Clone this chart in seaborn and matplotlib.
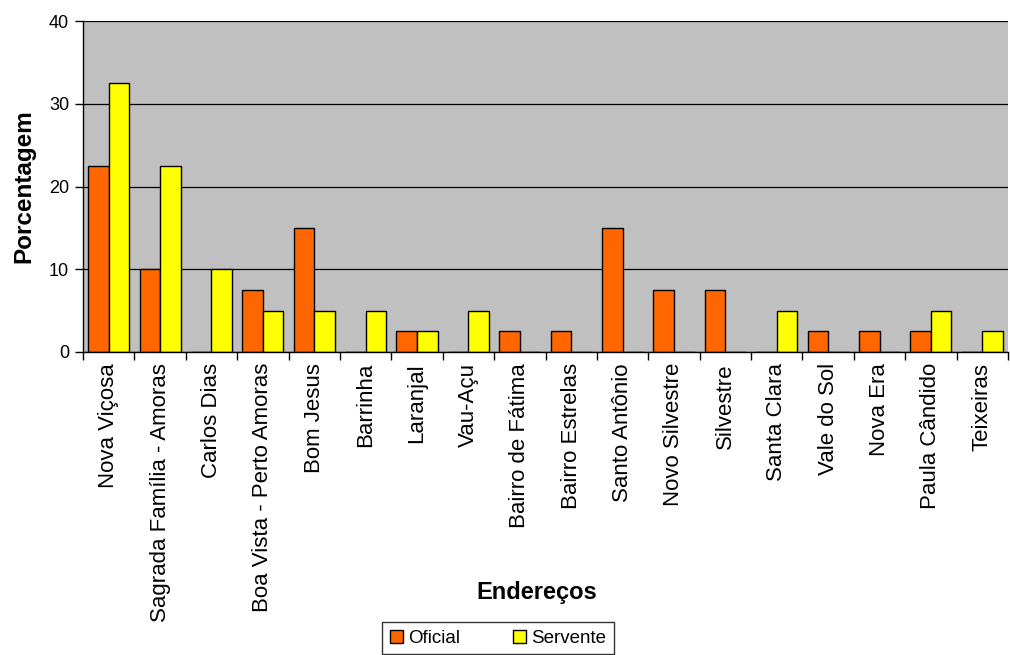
import matplotlib
matplotlib.use("Agg")
import matplotlib.pyplot as plt
import seaborn as sns
import pandas as pd
from matplotlib.patches import Patch

# Percentage of workers by address, per job role
enderecos = [
    "Nova Viçosa", "Sagrada Família - Amoras", "Carlos Dias",
    "Boa Vista - Perto Amoras", "Bom Jesus", "Barrinha", "Laranjal",
    "Vau-Açu", "Bairro de Fátima", "Bairro Estrelas", "Santo Antônio",
    "Novo Silvestre", "Silvestre", "Santa Clara", "Vale do Sol",
    "Nova Era", "Paula Cândido", "Teixeiras",
]
oficial = [22.5, 10, 0, 7.5, 15, 0, 2.5, 0, 2.5, 2.5, 15, 7.5, 7.5, 0, 2.5, 2.5, 2.5, 0]
servente = [32.5, 22.5, 10, 5, 5, 5, 2.5, 5, 0, 0, 0, 0, 0, 5, 0, 0, 5, 2.5]
series = ["Oficial", "Servente"]
cores = ["#FF6600", "#FFFF00"]

df = pd.DataFrame({
    "Endereço": enderecos * 2,
    "Função": [series[0]] * len(enderecos) + [series[1]] * len(enderecos),
    "Porcentagem": oficial + servente,
})

plt.rcParams["font.family"] = ["Liberation Sans", "DejaVu Sans"]
plt.rcParams["text.color"] = "black"
plt.rcParams["axes.labelcolor"] = "black"
plt.rcParams["xtick.color"] = "black"
plt.rcParams["ytick.color"] = "black"

fig = plt.figure(figsize=(10.1, 6.55), dpi=100)
ax = fig.add_axes([83 / 1010, 1 - 352 / 655, 925 / 1010, 331 / 655])

sns.barplot(
    data=df, x="Endereço", y="Porcentagem", hue="Função",
    order=enderecos, hue_order=series, palette=cores,
    width=0.8, edgecolor="black", linewidth=1.0, saturation=1,
    ax=ax, zorder=3,
)

ax.set_facecolor("#C0C0C0")
ax.set_xlim(-0.5, len(enderecos) - 0.5)
ax.set_ylim(0, 40)
ax.set_yticks([0, 10, 20, 30, 40])
ax.yaxis.grid(True, color="black", linewidth=0.9, zorder=0)
ax.xaxis.grid(False)
ax.set_axisbelow(True)

for s in ["top", "right"]:
    ax.spines[s].set_visible(False)
for s in ["left", "bottom"]:
    ax.spines[s].set_color("black")
    ax.spines[s].set_linewidth(1.0)
    ax.spines[s].set_zorder(4)

# Category labels at centres, tick marks at the boundaries between groups
ax.set_xticks(range(len(enderecos)))
ax.set_xticklabels(enderecos, rotation=90, fontsize=16, va="top", ha="center")
ax.set_xticks([i - 0.5 for i in range(len(enderecos) + 1)], minor=True)
ax.tick_params(axis="x", which="major", length=0, pad=8)
ax.tick_params(axis="x", which="minor", length=6, width=1, color="black", direction="out")
ax.tick_params(axis="y", which="major", length=6, width=1, color="black",
               direction="out", labelsize=13, pad=4, left=True)

ax.set_xlabel("Endereços", fontsize=17, fontweight="bold")
ax.xaxis.set_label_coords((537 - 83) / 925, (352 - 593) / 331)
ax.xaxis.label.set_va("center")
ax.set_ylabel("Porcentagem", fontsize=17.5, fontweight="bold", labelpad=10)

if ax.legend_ is not None:
    ax.legend_.remove()
handles = [Patch(facecolor=c, edgecolor="black", linewidth=1.0) for c in cores]
leg = fig.legend(
    handles, series, loc="upper center", bbox_to_anchor=(498 / 1010, 1 - 622 / 655),
    ncol=2, frameon=True, fancybox=False, edgecolor="black", fontsize=13.5,
    handlelength=0.7, handleheight=0.7, handletextpad=0.3, columnspacing=2.8,
    borderpad=0.4, borderaxespad=0,
)
leg.get_frame().set_linewidth(1.0)

fig.savefig("out.png", dpi=100, facecolor="white")
